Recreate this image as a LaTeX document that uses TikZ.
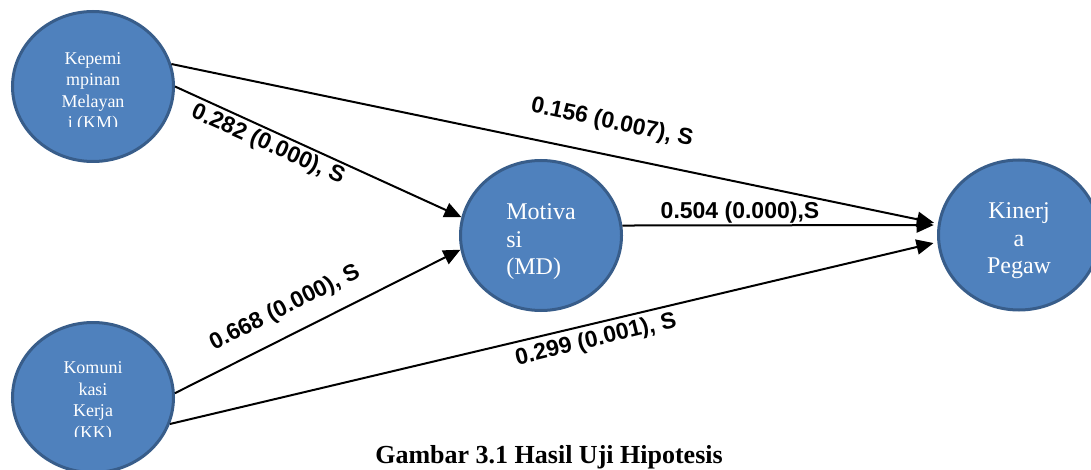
\documentclass[tikz,border=0pt]{standalone}
\usepackage{fontspec}
\setmainfont{Liberation Serif}
\newfontfamily\lblfont{Liberation Sans}
\usetikzlibrary{shapes.geometric,arrows.meta}
\definecolor{cfill}{HTML}{4F81BD}
\definecolor{cedge}{HTML}{385D8A}
\begin{document}
\begin{tikzpicture}[x=1pt,y=-1pt,
  circ/.style={ellipse, fill=cfill, draw=cedge, line width=3pt,
    minimum width=161pt, minimum height=150pt, inner sep=0pt},
  ctxt/.style={text=white, inner sep=0pt},
  smalltxt/.style={ctxt, align=center, font=\fontsize{18}{21.5}\selectfont},
  bigtxt/.style={ctxt, font=\fontsize{24}{27.5}\selectfont},
  arr/.style={-{Triangle[length=17pt,width=15pt]}, line width=2pt},
  lbl/.style={inner sep=0pt, font=\lblfont\bfseries\fontsize{23}{27}\selectfont}
]
\clip (0,0) rectangle (1091,470);
% circles
\node[circ] (KM) at (93,86.5) {};
\node[circ] (KK) at (93,397.5) {};
\node[circ] (MD) at (541,235.5) {};
\node[circ] (KI) at (1019,235) {};
% circle texts
\begin{scope}
\clip (0,0) rectangle (1091,127);
\node[smalltxt] (KMt) at (93,92.5) {Kepemi\\mpinan\\Melayan\\i (KM)};
\end{scope}
\begin{scope}
\clip (0,300) rectangle (1091,436.5);
\node[smalltxt] (KKt) at (93,402) {Komuni\\kasi\\Kerja\\(KK)};
\end{scope}
\node[bigtxt, align=left] (MDt) at (541,242) {Motiva\\si\\(MD)};
\node[bigtxt, align=center] (KIt) at (1019,241) {Kinerj\\a\\Pegaw};
% connectors
\draw[arr, shorten >=4pt] (KM.16) -- (KI.172);
\draw[arr] (KM.0) -- (MD.167);
\draw[arr] (KK.3) -- (MD.190);
\draw[arr, shorten >=4pt] (KK.-19) -- (KI.185);
\draw[arr, shorten >=4pt] (MD.7) -- (KI.173);
% labels
\node[lbl, rotate=-12] (L1) at (612,123) {0.156 (0.007), S};
\node[lbl, rotate=-24] (L2) at (268,145) {0.282 (0.000), S};
\node[lbl, rotate=26.7] (L3) at (285,308) {0.668 (0.000), S};
\node[lbl, rotate=13.6] (L4) at (596,340) {0.299 (0.001), S};
\node[lbl] (L5) at (740,213) {0.504 (0.000),S};
% caption
\node[anchor=base, inner sep=0pt, font=\bfseries\fontsize{26}{30}\selectfont] (cap) at (549,463) {Gambar 3.1 Hasil Uji Hipotesis};
\end{tikzpicture}
\end{document}
